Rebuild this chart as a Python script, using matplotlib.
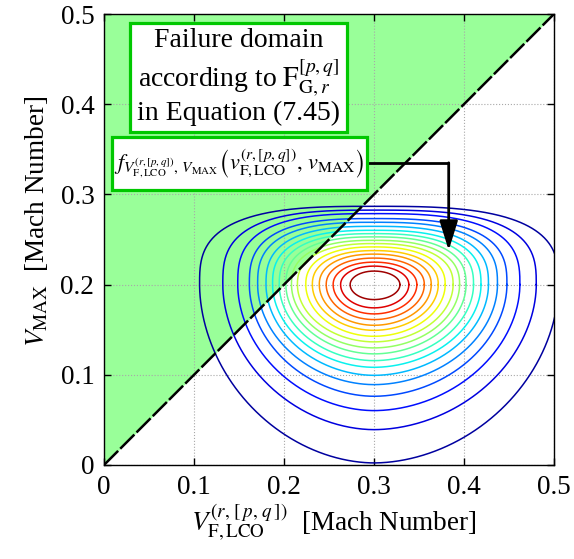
import numpy as np
import matplotlib
matplotlib.use("Agg")
import matplotlib.pyplot as plt
from matplotlib.patches import Rectangle

plt.rcParams['font.family'] = 'serif'
plt.rcParams['font.serif'] = ['Liberation Serif', 'DejaVu Serif']
plt.rcParams['mathtext.fontset'] = 'stix'

# ---- data ----
x_ticks = [0, 0.1, 0.2, 0.3, 0.4, 0.5]
y_ticks = [0, 0.1, 0.2, 0.3, 0.4, 0.5]
x_tick_labels = ['0', '0.1', '0.2', '0.3', '0.4', '0.5']
y_tick_labels = ['0', '0.1', '0.2', '0.3', '0.4', '0.5']

# mode of the joint density
mode_x, mode_y = 0.30, 0.20
# contour extents from the mode (inner -> outer), read along the axes through the mode
extent_below = [0.0166, 0.0258, 0.0325, 0.0388, 0.0451, 0.0507, 0.0573, 0.0635, 0.0702,
                0.0768, 0.0843, 0.0917, 0.1006, 0.1109, 0.1238, 0.1397, 0.1608, 0.1977]
extent_above = [0.0150, 0.0205, 0.0249, 0.0294, 0.0338, 0.0377, 0.0418, 0.0455, 0.0491,
                0.0529, 0.0565, 0.0602, 0.0646, 0.0691, 0.0732, 0.0787, 0.0826, 0.0868]
extent_left = [0.0265, 0.0371, 0.0454, 0.0531, 0.0608, 0.0685, 0.0758, 0.0851, 0.0917,
               0.0979, 0.1053, 0.1127, 0.1200, 0.1293, 0.1385, 0.1514, 0.1680, 0.1938]
extent_right = [0.0288, 0.0387, 0.0476, 0.0559, 0.0636, 0.0714, 0.0791, 0.0879, 0.0951,
                0.1023, 0.1106, 0.1189, 0.1272, 0.1372, 0.1477, 0.1621, 0.1803, 0.2050]

n_levels = len(extent_below)

# failure boundary (diagonal)
boundary_x = [0.0, 0.5]
boundary_y = [0.0, 0.5]

# arrow path
arrow_x = [0.292, 0.383, 0.383]
arrow_y = [0.335, 0.335, 0.238]

# ---- figure ----
fig = plt.figure(figsize=(5.74, 5.59), dpi=100)
ax = fig.add_axes([104/574, (559-465)/559, 450/574, 451/559])

ax.fill_between(boundary_x, boundary_y, [0.5, 0.5], color='#99ff99', lw=0, zorder=1)

# contour lines
p_up = np.linspace(2.0, 3.0, n_levels)
p_dn = np.linspace(2.0, 1.9, n_levels)
colors = plt.cm.jet(np.linspace(0.97, 0.03, n_levels))
theta = np.linspace(0, 2*np.pi, 721)
c, s = np.cos(theta), np.sin(theta)
for k in range(n_levels):
    X = np.where(c >= 0, extent_right[k], extent_left[k])
    Y = np.where(s >= 0, extent_above[k], extent_below[k])
    P = np.where(s >= 0, p_up[k], p_dn[k])
    xs = mode_x + X*np.sign(c)*np.abs(c)**(2/P)
    ys = mode_y + Y*np.sign(s)*np.abs(s)**(2/P)
    ax.plot(xs, ys, color=colors[k], lw=1.1, zorder=2)

ax.plot(boundary_x, boundary_y, color='k', lw=1.8, ls=(0, (8, 1.2)), zorder=3)

# grid / axes
ax.set_xlim(0, 0.5)
ax.set_ylim(0, 0.5)
ax.set_xticks(x_ticks)
ax.set_yticks(y_ticks)
ax.set_xticklabels(x_tick_labels)
ax.set_yticklabels(y_tick_labels)
ax.grid(True, ls=':', color='#a8a8a8', lw=0.8)
ax.tick_params(direction='in', top=True, right=True, length=5, width=1,
               labelsize=19.5, pad=7)
for sp in ax.spines.values():
    sp.set_linewidth(1.0)

ax.set_xlabel(r'$V_{\mathrm{F,LCO}}^{(r,\,[\,p,\,q\,])}$  [Mach Number]', fontsize=19.5)
ax.set_ylabel(r'$V_{\mathrm{MAX}}$  [Mach Number]', fontsize=19.5)
ax.xaxis.set_label_coords(0.51, -0.08)
ax.yaxis.set_label_coords(-0.12, 0.54)

# text boxes
green = '#00c800'
b1 = Rectangle((0.058, 0.739), 0.482, 0.242, transform=ax.transAxes,
               facecolor='white', edgecolor=green, lw=2.3, zorder=5)
ax.add_patch(b1)
ax.text(0.299, 0.86, 'Failure domain\naccording to $\\mathrm{F}_{\\mathrm{G},r}^{[p,q]}$\nin Equation (7.45)',
        transform=ax.transAxes, ha='center', va='center', fontsize=20,
        linespacing=1.15, zorder=6)

b2 = Rectangle((0.017, 0.61), 0.567, 0.118, transform=ax.transAxes,
               facecolor='white', edgecolor=green, lw=2.3, zorder=5)
ax.add_patch(b2)
ax.text(0.30, 0.669,
        r'$f_{V_{\mathrm{F,LCO}}^{(r,[p,q])},\,V_{\mathrm{MAX}}}\left(v_{\mathrm{F,LCO}}^{(r,[p,q])},\,v_{\mathrm{MAX}}\right)$',
        transform=ax.transAxes, ha='center', va='center', fontsize=16, zorder=6)

# arrow
ax.plot(arrow_x[:2], arrow_y[:2], color='k', lw=2, zorder=4, solid_capstyle='butt')
ax.annotate('', xy=(arrow_x[2], arrow_y[2]), xytext=(arrow_x[1], arrow_y[1]),
            arrowprops=dict(arrowstyle='-|>,head_length=0.9,head_width=0.28',
                            lw=2, color='k', mutation_scale=20, shrinkA=0, shrinkB=0),
            zorder=4)

fig.savefig('out.png', dpi=100)
